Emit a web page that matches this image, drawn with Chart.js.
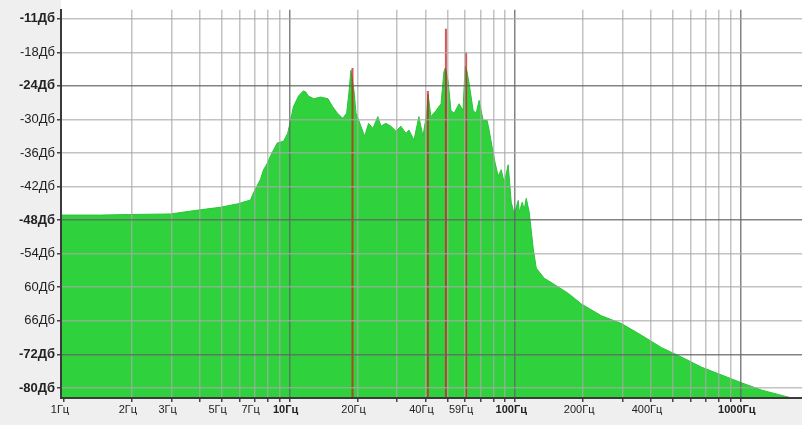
<!DOCTYPE html>
<html>
<head>
<meta charset="utf-8">
<script src="https://cdn.jsdelivr.net/npm/chart.js@4"></script>
<style>
  html, body { margin: 0; padding: 0; background: #efefef; }
  canvas { display: block; }
</style>
</head>
<body>
<canvas id="spectrum" width="802" height="425"></canvas>
<script>
// --- DATOS DEL ESPECTRO ---
const specFreqs = [
  0.97, 1.45, 1.93, 2.96, 3.94, 4.93, 5.87, 6.71, 6.92, 7.43,
  7.66, 7.98, 8.23, 8.82, 9.40, 9.80, 10.1, 10.4, 10.96, 11.5,
  11.8, 12.1, 12.8, 13.7, 14.8, 15.5, 16.3, 17.2, 17.9, 18.3,
  18.7, 19.3, 19.7, 20.7, 21.5, 22.4, 23.4, 24.6, 25.4, 26.7,
  28.1, 29.6, 31.1, 32.8, 33.8, 35.6, 37.4, 39.0, 40.5, 41.1,
  42.3, 44.6, 46.9, 48.3, 49.0, 50.4, 51.9, 53.6, 56.4, 58.7,
  60.0, 61.2, 62.5, 65.1, 67.1, 69.2, 72.1, 75.1, 76.6, 79.9,
  81.5, 84.0, 86.7, 89.4, 93.1, 96.0, 99.0, 103.1, 104.2, 107.4,
  109.6, 111.9, 115.4, 120.2, 124.0, 134.5, 149.1, 172.0, 196.5, 241.1,
  295.9, 363.1, 445.6, 546.8, 670.9, 823.3, 1010, 1240, 1475, 1685, 1867
];
const specLevels = [
  -47.1, -47.1, -47.0, -46.9, -46.2, -45.7, -45.1, -44.4, -43.1, -40.7,
  -39.0, -37.8, -36.5, -34.2, -33.9, -32.5, -30.2, -27.7, -25.8, -24.9,
  -25.1, -25.8, -26.3, -26.0, -26.3, -27.7, -28.9, -29.8, -28.9, -25.4,
  -21.2, -24.9, -28.9, -31.2, -33.0, -30.7, -31.6, -29.5, -31.2, -30.7,
  -31.2, -32.1, -31.2, -32.5, -31.9, -33.7, -29.5, -33.0, -29.0, -25.5,
  -29.5, -28.4, -27.2, -21.5, -20.8, -23.1, -28.4, -28.9, -27.2, -28.4,
  -20.5, -21.5, -23.6, -28.4, -28.9, -26.6, -30.2, -30.2, -31.9, -36.0,
  -37.8, -40.1, -39.0, -41.3, -38.1, -44.8, -46.9, -44.5, -46.6, -44.8,
  -46.1, -44.1, -46.6, -53.1, -56.6, -58.4, -59.5, -61.1, -63.0, -65.1,
  -66.5, -68.6, -70.8, -72.5, -74.3, -75.7, -77.1, -78.4, -79.2, -79.8, -80.1
];

// Líneas rojas (picos marcados)
const peakFreqs = [19.0, 41.0, 49.3, 60.6];
const peakLevels = [-20.8, -24.9, -13.8, -18.0];

// --- EJES ---
const yTickValues = [-12, -18, -24, -30, -36, -42, -48, -54, -60, -66, -72, -78];
const yTickLabels = ['-11Дб', '-18Дб', '-24Дб', '-30Дб', '-36Дб', '-42Дб', '-48Дб', '-54Дб', '60Дб', '66Дб', '-72Дб', '-80Дб'];
const yBoldValues = [-12, -24, -48, -72, -78];
const yDarkValues = [-24, -48, -72];

const xGridFreqs = [1, 2, 3, 4, 5, 6, 7, 8, 9, 10, 20, 30, 40, 50, 60, 70, 80, 90,
  100, 200, 300, 400, 500, 600, 700, 800, 900, 1000];
const xLabelFreqs = [1, 2, 3, 5, 7, 10, 20, 40, 60, 100, 200, 400, 1000];
const xLabelTexts = ['1Гц', '2Гц', '3Гц', '5Гц', '7Гц', '10Гц', '20Гц', '40Гц', '59Гц', '100Гц', '200Гц', '400Гц', '1000Гц'];
const xDarkFreqs = [10, 100, 1000];

const Y_MIN = -79.8, Y_MAX = -10.4;
const FONT = '"Liberation Sans", Arial, sans-serif';
const GRID_LIGHT = 'rgba(170,170,170,0.7)';
const GRID_DARK = 'rgba(100,100,100,0.8)';

// fondo gris + área blanca
const fondo = {
  id: 'fondo',
  beforeDraw(chart) {
    const { ctx, chartArea: a } = chart;
    ctx.save();
    ctx.fillStyle = '#efefef';
    ctx.fillRect(0, 0, chart.width, chart.height);
    ctx.fillStyle = '#ffffff';
    ctx.fillRect(a.left, 0, a.right - a.left, a.bottom);
    ctx.restore();
  }
};

const datasets = [{
  type: 'line',
  data: specFreqs.map((f, i) => ({ x: f, y: specLevels[i] })),
  borderColor: '#2cc23a',
  borderWidth: 1,
  backgroundColor: '#2fd23d',
  fill: 'start',
  pointRadius: 0,
  tension: 0,
  order: 2
}];

peakFreqs.forEach((f, i) => {
  datasets.push({
    type: 'line',
    data: [{ x: f, y: Y_MIN }, { x: f, y: peakLevels[i] }],
    borderColor: 'rgba(205,30,30,0.75)',
    borderWidth: 2,
    pointRadius: 0,
    fill: false,
    order: 1
  });
});

new Chart(document.getElementById('spectrum'), {
  type: 'line',
  data: { datasets },
  plugins: [fondo],
  options: {
    responsive: false,
    animation: false,
    layout: { padding: { top: 5, right: 0, left: 0, bottom: 0 } },
    plugins: { legend: { display: false }, tooltip: { enabled: false } },
    scales: {
      x: {
        type: 'logarithmic',
        min: 0.97,
        max: 1867,
        afterBuildTicks: (scale) => { scale.ticks = xGridFreqs.map(v => ({ value: v })); },
        afterFit: (scale) => { scale.height = 27; },
        border: { color: '#3a3a3a', width: 2, z: 2 },
        grid: {
          z: 1,
          color: (c) => c.tick && c.tick.value === 1 ? 'rgba(0,0,0,0)'
            : (c.tick && xDarkFreqs.includes(c.tick.value) ? GRID_DARK : GRID_LIGHT),
          tickColor: '#444',
          tickLength: 4,
          lineWidth: 1.5
        },
        ticks: {
          autoSkip: false,
          maxRotation: 0,
          padding: 1,
          labelOffset: -4,
          color: '#222',
          font: (c) => ({ family: FONT, size: 11, weight: c.tick && xDarkFreqs.includes(c.tick.value) ? 'bold' : 'normal' }),
          callback: (v) => {
            const i = xLabelFreqs.indexOf(v);
            return i >= 0 ? xLabelTexts[i] : '';
          }
        }
      },
      y: {
        type: 'linear',
        min: Y_MIN,
        max: Y_MAX,
        afterBuildTicks: (scale) => { scale.ticks = yTickValues.map(v => ({ value: v })); },
        afterFit: (scale) => { scale.width = 61; },
        border: { color: '#3a3a3a', width: 2, z: 2 },
        grid: {
          z: 1,
          color: (c) => c.tick && yDarkValues.includes(c.tick.value) ? GRID_DARK : GRID_LIGHT,
          tickColor: '#444',
          tickLength: 4,
          lineWidth: 1.5
        },
        ticks: {
          padding: 2,
          color: '#222',
          font: (c) => ({ family: FONT, size: 13, weight: c.tick && yBoldValues.includes(c.tick.value) ? 'bold' : 'normal' }),
          callback: (v) => {
            const i = yTickValues.indexOf(v);
            return i >= 0 ? yTickLabels[i] : '';
          }
        }
      }
    }
  }
});
</script>
</body>
</html>
